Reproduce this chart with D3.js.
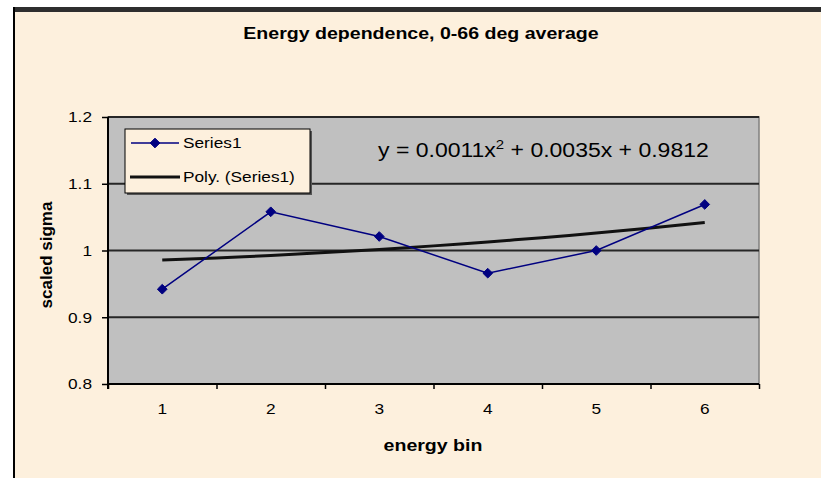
<!DOCTYPE html>
<html>
<head>
<meta charset="utf-8">
<script src="https://cdn.jsdelivr.net/npm/d3@7"></script>
<style>
  html, body { margin: 0; padding: 0; background: #ffffff; }
  svg { display: block; }
  text { font-family: "Liberation Sans", Arial, sans-serif; fill: #000; }
</style>
</head>
<body>
<svg id="chart" width="821" height="478"></svg>
<script>
// ---- data ----
const categories = ["1", "2", "3", "4", "5", "6"];
const series1 = [0.942, 1.058, 1.021, 0.966, 1.000, 1.069];
const trendCoef = [0.0011, 0.0035, 0.9812]; // a*x^2 + b*x + c
const yTicks = [0.8, 0.9, 1.0, 1.1, 1.2];
const yTickLabels = ["0.8", "0.9", "1", "1.1", "1.2"];
const titleText = "Energy dependence, 0-66 deg average";
const xTitle = "energy bin";
const yTitle = "scaled sigma";
const legendLabels = ["Series1", "Poly. (Series1)"];

// ---- layout ----
const W = 821, H = 478;
const plot = { left: 108, right: 759, top: 117, bottom: 384 };
const STRETCH = 1.15; // horizontal widening of text glyphs
const navy = "#000080";

const svg = d3.select("#chart");

// widen a text element horizontally while keeping its anchor
function widen(sel) {
  sel.each(function () {
    const len = this.getComputedTextLength();
    d3.select(this).attr("textLength", len * STRETCH).attr("lengthAdjust", "spacingAndGlyphs");
  });
  return sel;
}

// chart area background and frame
svg.append("rect").attr("x", 13).attr("y", 8).attr("width", W - 13).attr("height", H - 8)
  .attr("fill", "#fdf0dd");
svg.append("rect").attr("x", 13).attr("y", 7).attr("width", W - 13).attr("height", 5)
  .attr("fill", "#2e2e2e");
svg.append("rect").attr("x", 13).attr("y", 7).attr("width", 2).attr("height", H - 7)
  .attr("fill", "#000");

// scales
const x = d3.scaleBand().domain(categories).range([plot.left, plot.right]).padding(0);
const xEdges = d3.scaleLinear().domain([0, categories.length]).range([plot.left, plot.right]);
const y = d3.scaleLinear().domain([0.8, 1.2]).range([plot.bottom, plot.top]);
const cx = c => x(c) + x.bandwidth() / 2;

// plot area
svg.append("rect")
  .attr("x", plot.left).attr("y", plot.top)
  .attr("width", plot.right - plot.left).attr("height", plot.bottom - plot.top)
  .attr("fill", "#c0c0c0").attr("stroke", "#808080").attr("stroke-width", 1.5);

// horizontal gridlines
svg.append("g").selectAll("line")
  .data(yTicks.filter(v => v > 0.8))
  .join("line")
  .attr("x1", plot.left).attr("x2", plot.right)
  .attr("y1", d => y(d)).attr("y2", d => y(d))
  .attr("stroke", "#262626").attr("stroke-width", 2);

// y axis
const yAxis = svg.append("g")
  .attr("transform", `translate(${plot.left},0)`)
  .call(d3.axisLeft(y).tickValues(yTicks)
    .tickFormat((d, i) => yTickLabels[i]).tickSize(6).tickPadding(10));
yAxis.select(".domain").attr("stroke", "#000").attr("stroke-width", 2)
  .attr("d", `M0,${plot.top}V${plot.bottom + 5}`);
yAxis.selectAll(".tick line").attr("stroke", "#000").attr("stroke-width", 1.5);
yAxis.selectAll(".tick text")
  .attr("font-size", 15).attr("font-family", "Liberation Sans, Arial, sans-serif")
  .attr("fill", "#000").call(widen);

// x axis: ticks on category boundaries
const xTickAxis = svg.append("g")
  .attr("transform", `translate(0,${plot.bottom})`)
  .call(d3.axisBottom(xEdges).tickValues(d3.range(categories.length + 1))
    .tickFormat("").tickSize(5));
xTickAxis.select(".domain").attr("stroke", "#000").attr("stroke-width", 2)
  .attr("d", `M${plot.left},0H${plot.right}`);
xTickAxis.selectAll(".tick line").attr("stroke", "#000").attr("stroke-width", 1.5);

// x axis: category labels centred in bands
const xLabelAxis = svg.append("g")
  .attr("transform", `translate(0,${plot.bottom})`)
  .call(d3.axisBottom(x).tickSize(0).tickPadding(19));
xLabelAxis.select(".domain").remove();
xLabelAxis.selectAll(".tick text")
  .attr("font-size", 15).attr("font-family", "Liberation Sans, Arial, sans-serif")
  .attr("fill", "#000").call(widen);

// polynomial trendline
const trendX = d3.scaleLinear().domain([1, categories.length])
  .range([cx(categories[0]), cx(categories[categories.length - 1])]);
const poly = t => trendCoef[0] * t * t + trendCoef[1] * t + trendCoef[2];
const trendPts = d3.range(1, categories.length + 0.001, 0.25).map(t => [trendX(t), y(poly(t))]);
svg.append("path")
  .attr("d", d3.line()(trendPts))
  .attr("fill", "none").attr("stroke", "#111").attr("stroke-width", 3);

// Series1 line and diamond markers
const linePts = categories.map((c, i) => [cx(c), y(series1[i])]);
svg.append("path")
  .attr("d", d3.line()(linePts))
  .attr("fill", "none").attr("stroke", navy).attr("stroke-width", 1.5);
const diamond = d3.symbol().type(d3.symbolDiamond2).size(60);
svg.append("g").selectAll("path")
  .data(linePts)
  .join("path")
  .attr("transform", d => `translate(${d[0]},${d[1]})`)
  .attr("d", diamond)
  .attr("fill", navy).attr("stroke", navy).attr("stroke-width", 1);

// legend
const lg = svg.append("g");
lg.append("rect").attr("x", 127).attr("y", 131).attr("width", 185).attr("height", 64)
  .attr("fill", "#555");
lg.append("rect").attr("x", 125).attr("y", 129).attr("width", 185).attr("height", 64)
  .attr("fill", "#fdf0dd").attr("stroke", "#000").attr("stroke-width", 1);
lg.append("line").attr("x1", 131).attr("x2", 179).attr("y1", 143).attr("y2", 143)
  .attr("stroke", navy).attr("stroke-width", 1.5);
lg.append("path").attr("transform", "translate(155,143)").attr("d", diamond)
  .attr("fill", navy).attr("stroke", navy);
lg.append("line").attr("x1", 130).attr("x2", 180).attr("y1", 177).attr("y2", 177)
  .attr("stroke", "#111").attr("stroke-width", 3);
lg.selectAll("text.lg")
  .data(legendLabels)
  .join("text")
  .attr("class", "lg")
  .attr("x", 183).attr("y", (d, i) => 148 + i * 34)
  .attr("font-size", 15)
  .text(d => d)
  .call(widen);

// trendline equation
const eq = svg.append("text").attr("x", 378).attr("y", 157).attr("font-size", 20);
eq.append("tspan").text(`y = ${trendCoef[0].toFixed(4)}x`);
eq.append("tspan").attr("dy", -8).attr("font-size", 13).text("2");
eq.append("tspan").attr("dy", 8).text(` + ${trendCoef[1].toFixed(4)}x + ${trendCoef[2].toFixed(4)}`);
widen(eq);

// title
svg.append("text").attr("x", 421).attr("y", 39).attr("text-anchor", "middle")
  .attr("font-size", 17).attr("font-weight", "bold")
  .text(titleText).call(widen);

// axis titles
svg.append("text").attr("x", 433).attr("y", 451).attr("text-anchor", "middle")
  .attr("font-size", 17).attr("font-weight", "bold")
  .text(xTitle).call(widen);
svg.append("text")
  .attr("transform", "translate(52,255) rotate(-90)")
  .attr("text-anchor", "middle")
  .attr("font-size", 17).attr("font-weight", "bold")
  .text(yTitle);
</script>
</body>
</html>
